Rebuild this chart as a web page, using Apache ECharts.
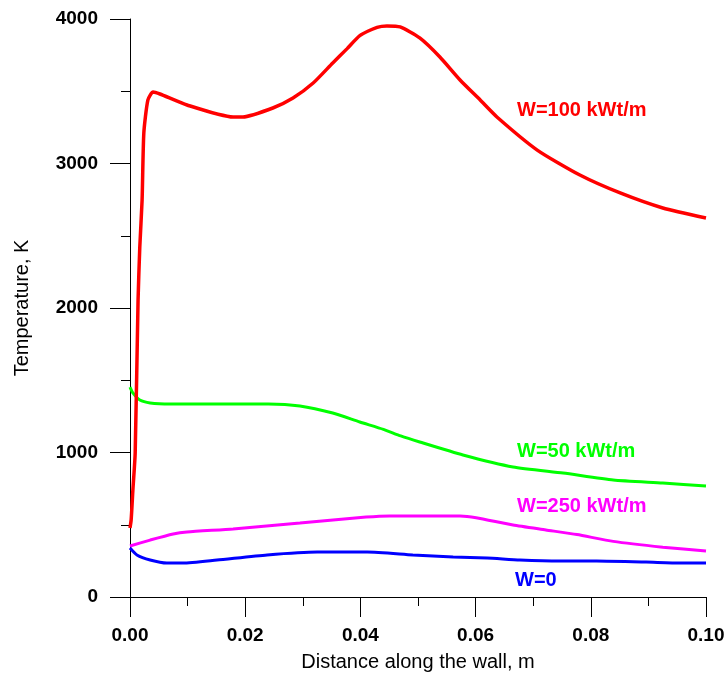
<!DOCTYPE html>
<html>
<head>
<meta charset="utf-8">
<script src="https://cdn.jsdelivr.net/npm/echarts@6/dist/echarts.min.js"></script>
<style>html,body{margin:0;padding:0;background:#fff}#c{width:728px;height:677px}</style>
</head>
<body>
<div id="c"></div>
<script>
// Distance along the wall (m) and temperature (K)
const redX   = [0, 0.0002, 0.0005, 0.0009, 0.0014, 0.0017, 0.0021, 0.0024, 0.0031, 0.0040, 0.0052, 0.0099, 0.0179, 0.0196, 0.0248, 0.0283, 0.0318, 0.0352, 0.0377, 0.0399, 0.0429, 0.0446, 0.0469, 0.0503, 0.0538, 0.0573, 0.0608, 0.0637, 0.0707, 0.0781, 0.0851, 0.0925, 0.1];
const redY   = [477, 533, 740, 997, 2055, 2422, 2747, 3211, 3439, 3495, 3481, 3405, 3322, 3322, 3384, 3453, 3557, 3696, 3795, 3885, 3942, 3952, 3945, 3869, 3737, 3578, 3439, 3322, 3093, 2920, 2796, 2692, 2623];

const greenX = [0, 0.0005, 0.0017, 0.0035, 0.007, 0.024, 0.0295, 0.0352, 0.0399, 0.044, 0.047, 0.0503, 0.0578, 0.0665, 0.0752, 0.0839, 0.0925, 0.1];
const greenY = [1453, 1412, 1363, 1343, 1336, 1336, 1322, 1273, 1211, 1160, 1115, 1073, 983, 900, 858, 810, 789, 768];

const magX   = [0, 0.0035, 0.0075, 0.0099, 0.0179, 0.0295, 0.0410, 0.0451, 0.0573, 0.0601, 0.0665, 0.0722, 0.0776, 0.0839, 0.0925, 0.1];
const magY   = [353, 394, 436, 450, 471, 512, 553, 561, 561, 549, 498, 464, 432, 385, 345, 318];

const blueX  = [0, 0.0012, 0.0035, 0.0064, 0.0092, 0.0151, 0.0238, 0.0325, 0.0412, 0.0491, 0.0561, 0.0620, 0.0677, 0.0747, 0.0810, 0.0896, 0.0955, 0.1];
const blueY  = [339, 291, 256, 235, 235, 256, 291, 311, 311, 291, 277, 270, 256, 249, 249, 242, 235, 235];

const seriesNames = ['W=50 kWt/m', 'W=250 kWt/m', 'W=0', 'W=100 kWt/m'];
const xTickLabels = ['0.00', '0.02', '0.04', '0.06', '0.08', '0.10'];
const yTickLabels = ['0', '1000', '2000', '3000', '4000'];

function pairs(xs, ys) { return xs.map((x, i) => [x, ys[i]]); }

const chart = echarts.init(document.getElementById('c'));
const font = 'Arial, "Liberation Sans", sans-serif';

chart.setOption({
  animation: false,
  backgroundColor: '#fff',
  grid: { left: 130, right: 22, top: 19, bottom: 80 },
  xAxis: {
    type: 'value', min: 0, max: 0.1, interval: 0.02,
    name: 'Distance along the wall, m', nameLocation: 'middle', nameGap: 55,
    nameTextStyle: { fontFamily: font, fontSize: 20, color: '#000' },
    axisLine: { show: true, onZero: false, lineStyle: { color: '#000', width: 1 } },
    axisTick: { show: true, inside: false, length: 20, lineStyle: { color: '#000' } },
    minorTick: { show: true, splitNumber: 2, length: 9, lineStyle: { color: '#000' } },
    splitLine: { show: false },
    axisLabel: {
      margin: 29, fontFamily: font, fontWeight: 'bold', fontSize: 19, color: '#000',
      formatter: (v) => xTickLabels[Math.round(v / 0.02)]
    }
  },
  yAxis: {
    type: 'value', min: 0, max: 4000, interval: 1000,
    name: 'Temperature, K', nameLocation: 'middle', nameGap: 98,
    nameTextStyle: { fontFamily: font, fontSize: 20, color: '#000' },
    axisLine: { show: true, onZero: false, lineStyle: { color: '#000', width: 1 } },
    axisTick: { show: true, inside: false, length: 20, lineStyle: { color: '#000' } },
    minorTick: { show: true, splitNumber: 2, length: 9, lineStyle: { color: '#000' } },
    splitLine: { show: false },
    axisLabel: {
      margin: 32, fontFamily: font, fontWeight: 'bold', fontSize: 19, color: '#000',
      formatter: (v) => yTickLabels[Math.round(v / 1000)]
    }
  },
  series: [
    { name: seriesNames[0], type: 'line', data: pairs(greenX, greenY), showSymbol: false, smooth: 0.2,
      lineStyle: { color: '#00ff00', width: 3 }, itemStyle: { color: '#00ff00' } },
    { name: seriesNames[1], type: 'line', data: pairs(magX, magY), showSymbol: false, smooth: 0.2,
      lineStyle: { color: '#ff00ff', width: 3 }, itemStyle: { color: '#ff00ff' } },
    { name: seriesNames[2], type: 'line', data: pairs(blueX, blueY), showSymbol: false, smooth: 0.2,
      lineStyle: { color: '#0000ff', width: 3 }, itemStyle: { color: '#0000ff' } },
    { name: seriesNames[3], type: 'line', data: pairs(redX, redY), showSymbol: false, smooth: 0.2,
      lineStyle: { color: '#ff0000', width: 3.5 }, itemStyle: { color: '#ff0000' } }
  ],
  graphic: [
    { type: 'text', left: 517, top: 100, style: { text: seriesNames[3], fill: '#ff0000', font: 'bold 20px ' + font } },
    { type: 'text', left: 517, top: 441, style: { text: seriesNames[0], fill: '#00ff00', font: 'bold 20px ' + font } },
    { type: 'text', left: 517, top: 496, style: { text: seriesNames[1], fill: '#ff00ff', font: 'bold 20px ' + font } },
    { type: 'text', left: 515, top: 570, style: { text: seriesNames[2], fill: '#0000ff', font: 'bold 20px ' + font } }
  ]
});
</script>
</body>
</html>
